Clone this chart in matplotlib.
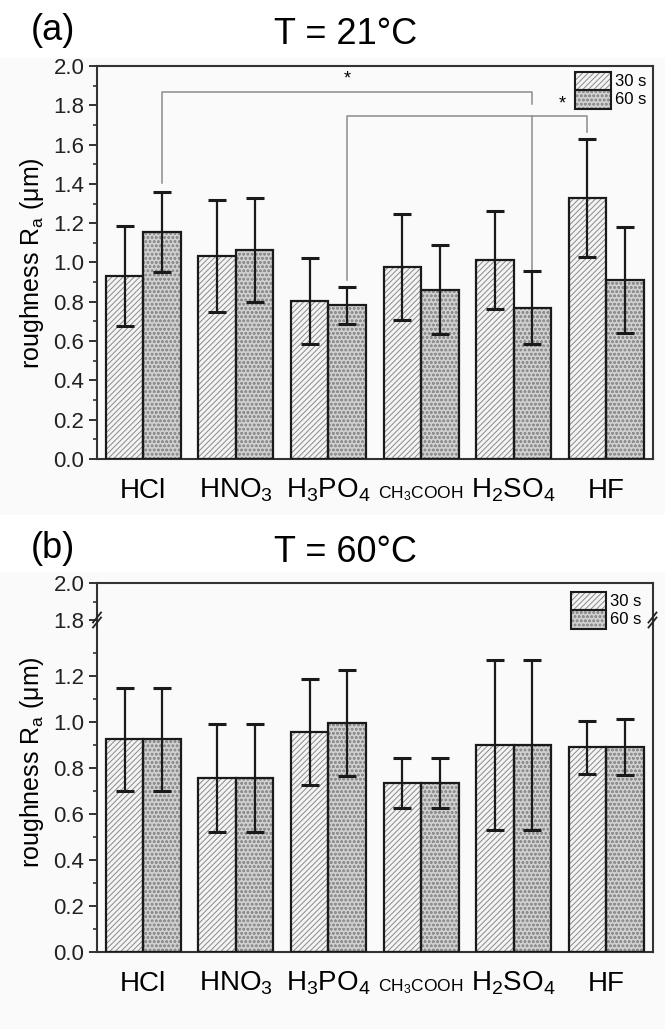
import matplotlib
matplotlib.use("Agg")
import matplotlib.pyplot as plt
import numpy as np
from matplotlib.patches import Rectangle

plt.rcParams['font.family'] = ['Liberation Sans', 'DejaVu Sans']
plt.rcParams['mathtext.fontset'] = 'custom'
plt.rcParams['mathtext.rm'] = 'Liberation Sans'
plt.rcParams['mathtext.it'] = 'Liberation Sans:italic'
plt.rcParams['mathtext.sf'] = 'Liberation Sans'
plt.rcParams['hatch.linewidth'] = 0.7

# ---------------- data ----------------
acids = ['HCl', 'HNO$_3$', 'H$_3$PO$_4$', 'CH$_3$COOH', 'H$_2$SO$_4$', 'HF']
series = ['30 s', '60 s']

a_30 = [0.93, 1.035, 0.805, 0.975, 1.012, 1.33]
a_30_err = [0.255, 0.285, 0.22, 0.27, 0.25, 0.30]
a_60 = [1.155, 1.064, 0.782, 0.862, 0.77, 0.912]
a_60_err = [0.205, 0.265, 0.095, 0.225, 0.185, 0.27]

b_30 = [0.925, 0.755, 0.955, 0.735, 0.90, 0.89]
b_30_err = [0.225, 0.235, 0.23, 0.11, 0.37, 0.115]
b_60 = [0.925, 0.755, 0.995, 0.735, 0.90, 0.89]
b_60_err = [0.225, 0.235, 0.23, 0.11, 0.37, 0.122]

# significance brackets in panel (a):
# (group, series), (group, series), top level, left leg end, right leg end, gap in right leg
brackets = [((0, 1), (4, 1), 1.868, 1.405, 0.955, (1.745, 1.805)),
            ((2, 1), (5, 0), 1.745, 0.91, 1.665, None)]
stars = [(None, 1.935), (4.52, 1.805)]

# ---------------- layout ----------------
W, H = 665, 1029
fig = plt.figure(figsize=(W / 100, H / 100), dpi=100)
fig.patch.set_facecolor('white')

def fx(px):
    return px / W

def fy(py):
    return 1 - py / H

bg = '#fafafa'
fig.add_artist(Rectangle((0, fy(515)), 1, (515 - 58) / H, transform=fig.transFigure,
                         facecolor=bg, edgecolor='none', zorder=-10))
fig.add_artist(Rectangle((0, 0), 1, (1029 - 572) / H, transform=fig.transFigure,
                         facecolor=bg, edgecolor='none', zorder=-10))

L, R = 97, 652.5
axa = fig.add_axes([fx(L), fy(459), fx(R - L), (459 - 66) / H])
axb_top = fig.add_axes([fx(L), fy(620), fx(R - L), (620 - 583) / H])
axb = fig.add_axes([fx(L), fy(952), fx(R - L), (952 - 620) / H])

x = np.arange(len(acids))
bw = 0.405
col30 = '#f4f4f4'
col60 = '#d0d0d0'
hatch30 = '#8a8a8a'
hatch60 = '#8f8f8f'

def draw_bars(ax, v30, e30, v60, e60):
    pos30 = x - bw / 2
    pos60 = x + bw / 2
    ax.bar(pos30, v30, bw, color=col30, edgecolor=hatch30, hatch='//////', linewidth=0, zorder=2)
    ax.bar(pos60, v60, bw, color=col60, edgecolor=hatch60, hatch='oooo', linewidth=0, zorder=2)
    ax.bar(pos30, v30, bw, fill=False, edgecolor='#1a1a1a', linewidth=1.6, zorder=3)
    ax.bar(pos60, v60, bw, fill=False, edgecolor='#1a1a1a', linewidth=1.6, zorder=3)
    for p, v, e in ((pos30, v30, e30), (pos60, v60, e60)):
        ax.errorbar(p, v, yerr=e, fmt='none', ecolor='#1a1a1a', elinewidth=1.6,
                    capsize=6.5, capthick=2.2, zorder=4)

def style(ax, ylim, major, minor):
    ax.set_xlim(-0.5, len(acids) - 0.5)
    ax.set_ylim(*ylim)
    ax.set_facecolor(bg)
    ax.set_yticks(major)
    ax.set_yticks(minor, minor=True)
    ax.set_yticklabels(['%.1f' % v for v in major])
    ax.tick_params(axis='y', which='major', direction='out', length=5.5, width=1.3,
                   labelsize=16, pad=3.5, right=False, colors='#222222')
    ax.tick_params(axis='y', which='minor', direction='out', length=3, width=1.1,
                   right=False, colors='#222222')
    for s in ax.spines.values():
        s.set_linewidth(1.5)
        s.set_color('#333333')

def xlabels(ax):
    ax.set_xticks(x)
    ax.set_xticklabels(acids)
    ax.tick_params(axis='x', length=0, pad=28, labelsize=20)
    for t in ax.get_xticklabels():
        t.set_va('baseline')
    ax.get_xticklabels()[3].set_fontsize(12.5)

ylab = 'roughness R$_\\mathregular{a}$ (μm)'

# ---- panel a ----
draw_bars(axa, a_30, a_30_err, a_60, a_60_err)
style(axa, (0, 2.0), np.arange(0, 2.01, 0.2), np.arange(0.1, 2.0, 0.2))
xlabels(axa)

def xpos(g, s):
    return x[g] + (bw / 2 if s == 1 else -bw / 2)

bcol = '#8c8c8c'
for (g1, s1), (g2, s2), yb, y1, y2, gap in brackets:
    xa, xb = xpos(g1, s1), xpos(g2, s2)
    if gap is None:
        axa.plot([xa, xa, xb, xb], [y1, yb, yb, y2], color=bcol, lw=1.1, zorder=1)
    else:
        axa.plot([xa, xa, xb, xb], [y1, yb, yb, gap[1]], color=bcol, lw=1.1, zorder=1)
        axa.plot([xb, xb], [gap[0], y2], color=bcol, lw=1.1, zorder=1)
for i, (sx, sy) in enumerate(stars):
    if sx is None:
        (g1, s1), (g2, s2) = brackets[i][0], brackets[i][1]
        sx = (xpos(g1, s1) + xpos(g2, s2)) / 2
    axa.text(sx, sy, '*', ha='center', va='center', fontsize=13)

fig.text(fx(32), fy(263), ylab, rotation=90, ha='center', va='center', fontsize=18)

# ---- panel b ----
draw_bars(axb, b_30, b_30_err, b_60, b_60_err)
style(axb, (0, (952 - 620) / 230), np.arange(0, 1.21, 0.2), np.arange(0.1, 1.35, 0.2))
xlabels(axb)
axb.spines['top'].set_visible(False)

style(axb_top, (1.8, 2.0), [1.8, 2.0], [1.9])
axb_top.set_xticks([])
axb_top.spines['bottom'].set_visible(False)
fig.text(fx(32), fy(762), ylab, rotation=90, ha='center', va='center', fontsize=18)

# break marks at the axis break
for px in (L, R):
    for dy in (-2.5, 2.5):
        fig.add_artist(plt.Line2D([fx(px - 4), fx(px + 4)], [fy(620 + 5 + dy), fy(620 - 5 + dy)],
                                  color='#222222', lw=1.3))

# ---- titles ----
fig.text(fx(346), fy(35), 'T = 21°C', ha='center', va='center', fontsize=26)
fig.text(fx(53), fy(30), '(a)', ha='center', va='center', fontsize=26)
fig.text(fx(346), fy(552), 'T = 60°C', ha='center', va='center', fontsize=26)
fig.text(fx(53), fy(548), '(b)', ha='center', va='center', fontsize=26)

# ---- legends (drawn in figure pixels) ----
def legend(x0, x1, ytop, ymid, ybot):
    for (y0, y1), fc, hc, h, lab in (((ytop, ymid), col30, hatch30, '//////', series[0]),
                                     ((ymid, ybot), col60, hatch60, 'oooo', series[1])):
        r = Rectangle((fx(x0), fy(y1)), fx(x1 - x0), (y1 - y0) / H, transform=fig.transFigure,
                      facecolor=fc, edgecolor=hc, hatch=h, linewidth=0)
        fig.add_artist(r)
        r2 = Rectangle((fx(x0), fy(y1)), fx(x1 - x0), (y1 - y0) / H, transform=fig.transFigure,
                       fill=False, edgecolor='#1a1a1a', linewidth=1.5)
        fig.add_artist(r2)
        fig.text(fx(x1 + 4), fy((y0 + y1) / 2), lab, ha='left', va='center', fontsize=12)

legend(575, 611, 72, 90, 109)
legend(571, 606, 592, 610, 629)

fig.savefig('out.png', dpi=100)
